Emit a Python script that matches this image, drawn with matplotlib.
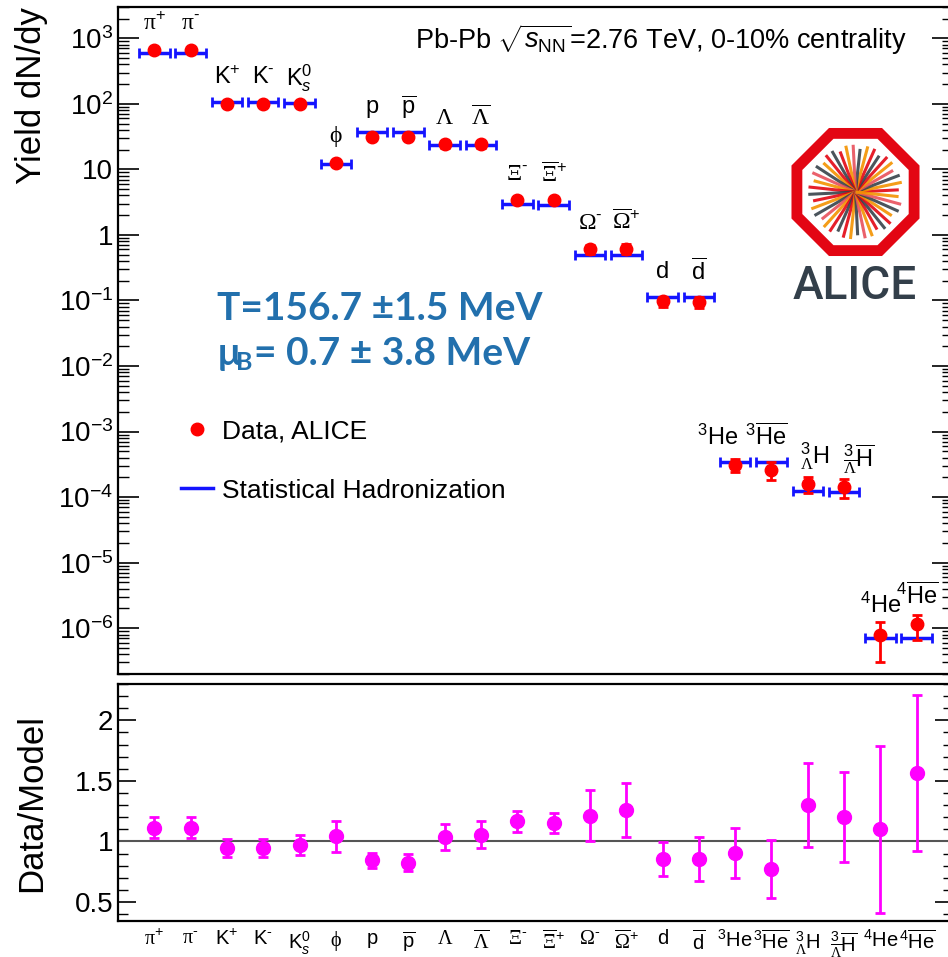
import matplotlib
matplotlib.use('Agg')
import matplotlib.pyplot as plt
import numpy as np
from matplotlib.lines import Line2D
from matplotlib.patches import Polygon
from matplotlib.ticker import LogLocator, MultipleLocator, FuncFormatter, NullFormatter

plt.rcParams['font.family'] = ['Liberation Sans', 'DejaVu Sans']
plt.rcParams['mathtext.fontset'] = 'custom'
plt.rcParams['mathtext.rm'] = 'Liberation Sans'
plt.rcParams['mathtext.it'] = 'Liberation Sans:italic'
plt.rcParams['mathtext.bf'] = 'Liberation Sans:bold'
plt.rcParams['mathtext.sf'] = 'Liberation Serif'

# particle labels
labels = [r'$\mathsf{\pi}^{+}$', r'$\mathsf{\pi}^{\text{-}}$', 'K$^{+}$', r'K$^{\text{-}}$', 'K$^{0}_{s}$',
          r'$\mathsf{\phi}$', 'p', r'$\overline{\mathrm{p}}$', r'$\mathsf{\Lambda}$',
          r'$\overline{\mathsf{\Lambda}}$', r'$\mathsf{\Xi}^{\text{-}}$', r'$\overline{\mathsf{\Xi}}^{+}$',
          r'$\mathsf{\Omega}^{\text{-}}$', r'$\overline{\mathsf{\Omega}}^{+}$', 'd', r'$\overline{\mathrm{d}}$',
          r'$^{3}$He', r'$^{3}\overline{\mathrm{He}}$', r'$^{3}_{\mathsf{\Lambda}}$H',
          r'$^{3}_{\overline{\mathsf{\Lambda}}}\overline{\mathrm{H}}$', r'$^{4}$He', r'$^{4}\overline{\mathrm{He}}$']

# yields dN/dy
data_vals = [670, 670, 100, 100, 100, 12.6, 31.5, 31, 24.1, 24.1, 3.42, 3.35, 0.61, 0.62,
             0.097, 0.095, 3.1e-4, 2.6e-4, 1.6e-4, 1.45e-4, 7.8e-7, 1.14e-6]
data_err = [50, 50, 8, 8, 8, 1.5, 2.5, 2.5, 2.6, 2.6, 0.25, 0.25, 0.1, 0.1,
            0.017, 0.017, 0.65e-4, 0.8e-4, 0.45e-4, 0.47e-4, 4.7e-7, 4.7e-7]
model_vals = [597, 597, 105, 105, 103, 12.1, 37, 37, 23.3, 23.3, 2.95, 2.9, 0.50, 0.49,
              0.114, 0.112, 3.45e-4, 3.45e-4, 1.22e-4, 1.2e-4, 7.2e-7, 7.1e-7]

# data / model
ratio = [1.115, 1.115, 0.945, 0.945, 0.973, 1.041, 0.843, 0.824, 1.036, 1.055, 1.165, 1.152,
         1.212, 1.26, 0.855, 0.853, 0.904, 0.769, 1.30, 1.20, 1.10, 1.568]
ratio_err = [0.085, 0.085, 0.077, 0.077, 0.083, 0.13, 0.065, 0.07, 0.11, 0.11, 0.088, 0.085,
             0.21, 0.22, 0.14, 0.18, 0.21, 0.24, 0.35, 0.37, 0.69, 0.645]

x = np.arange(len(labels))
W, H = 948, 957

fig = plt.figure(figsize=(W / 100, H / 100), dpi=100)
ax = fig.add_axes([118 / W, 1 - 674 / H, 835 / W, 667 / H])
ax2 = fig.add_axes([118 / W, 1 - 921 / H, 835 / W, 237 / H])

# top panel
ax.errorbar(x, model_vals, xerr=0.42, fmt='none', ecolor='#1414ff', elinewidth=2.5,
            capsize=3.5, capthick=2)
ax.errorbar(x, data_vals, yerr=data_err, fmt='o', color='#ff0000', ms=9, elinewidth=2,
            capsize=3.5, capthick=2)
ax.set_yscale('log')
ax.set_xlim(-1, 22)
ax.set_ylim(2.0e-7, 3000)
ax.yaxis.set_major_locator(LogLocator(base=10, numticks=20))
ax.yaxis.set_minor_locator(LogLocator(base=10, subs=np.arange(2, 10), numticks=20))
ax.yaxis.set_minor_formatter(NullFormatter())


def logfmt(v, pos):
    e = int(round(np.log10(v)))
    if e == 0:
        return '1'
    if e == 1:
        return '10'
    return r'$10^{%d}$' % e


ax.yaxis.set_major_formatter(FuncFormatter(logfmt))
ax.set_xticks([])
ax.tick_params(axis='y', which='both', direction='in', left=True, right=True, labelsize=20)
ax.tick_params(axis='y', which='major', length=15, width=1.2)
ax.tick_params(axis='y', which='minor', length=8, width=1.0)
ax.set_ylabel('Yield dN/dy', fontsize=25, loc='top')
ax.yaxis.set_label_coords(-0.084, 1.0)

# small sideways shifts so the nuclei labels do not collide
label_shift = {16: -13, 17: -4, 18: 5, 19: 11}
for i, lab in enumerate(labels):
    top = max(data_vals[i] + data_err[i] * 0.3, model_vals[i])
    ax.annotate(lab, (x[i], top), xytext=(label_shift.get(i, 0), 18), textcoords='offset points',
                ha='center', va='center', fontsize=17)

leg_handles = [Line2D([], [], marker='o', color='#ff0000', ls='none', ms=9),
               Line2D([], [], color='#1414ff', lw=2.5)]
ax.legend(leg_handles, ['Data, ALICE', 'Statistical Hadronization'], loc='upper left',
          bbox_to_anchor=(181 / W, 1 - 419 / H), bbox_transform=fig.transFigure,
          frameon=False, fontsize=19, handlelength=1.2, handletextpad=0.35,
          labelspacing=1.35, borderpad=0, borderaxespad=0)

fig.text(415 / W, 1 - 40 / H, r'Pb-Pb $\sqrt{s_{\mathrm{NN}}}$=2.76 TeV, 0-10% centrality',
         fontsize=19.5, va='center', ha='left')

blue = '#2270ad'
fig.text(217 / W, 1 - 308 / H, 'T=156.7 \u00b11.5 MeV', fontsize=28, fontfamily='Lato',
         fontweight='bold', color=blue, va='center', ha='left')
fig.text(217 / W, 1 - 354 / H, '\u00b5', fontsize=28, fontfamily='Lato',
         fontweight='bold', color=blue, va='center', ha='left')
fig.text(236 / W, 1 - 362 / H, 'B', fontsize=18, fontfamily='Lato',
         fontweight='bold', color=blue, va='center', ha='left')
fig.text(254 / W, 1 - 354 / H, '= 0.7 \u00b1 3.8 MeV', fontsize=28, fontfamily='Lato',
         fontweight='bold', color=blue, va='center', ha='left')

# ALICE logo
lax = fig.add_axes([790 / W, 1 - 257 / H, 131 / W, 130 / H])
lax.set_xlim(-66, 66)
lax.set_ylim(-66, 66)
lax.set_aspect('equal')
lax.axis('off')
ang = np.radians(22.5 + 45 * np.arange(8))
r_out = 65 / np.cos(np.radians(22.5))
r_in = 54 / np.cos(np.radians(22.5))
lax.add_patch(Polygon(np.c_[r_out * np.cos(ang), r_out * np.sin(ang)], closed=True,
                      facecolor='#e30613', edgecolor='none'))
lax.add_patch(Polygon(np.c_[r_in * np.cos(ang), r_in * np.sin(ang)], closed=True,
                      facecolor='white', edgecolor='none'))
ray_cols = ['#e30613', '#f39200', '#37424a', '#e8505b', '#f39200', '#e30613', '#37424a']
for k, a in enumerate(np.linspace(0, 2 * np.pi, 40, endpoint=False)):
    rr = 48 if k % 3 else 44
    lax.plot([0, rr * np.cos(a + 0.05)], [0, rr * np.sin(a + 0.05)],
             color=ray_cols[k % len(ray_cols)], lw=2.2, alpha=0.9, solid_capstyle='butt')
fig.text(855 / W, 1 - 286 / H, 'ALICE', fontsize=33, fontfamily='Roboto', fontweight='medium',
         color='#333f4a', ha='center', va='center')

# bottom panel
ax2.axhline(1, color='#555555', lw=1.5)
ax2.errorbar(x, ratio, yerr=ratio_err, fmt='o', color='#ff00ff', ms=10, elinewidth=2,
             capsize=3.5, capthick=2)
ax2.set_xlim(-1, 22)
ax2.set_ylim(0.343, 2.30)
ax2.yaxis.set_major_locator(MultipleLocator(0.5))
ax2.yaxis.set_minor_locator(MultipleLocator(0.1))
ax2.yaxis.set_major_formatter(FuncFormatter(lambda v, p: '%g' % v))
ax2.set_xticks(x)
ax2.set_xticklabels(labels, fontsize=14.5)
ax2.tick_params(axis='x', length=0, pad=6)
ax2.tick_params(axis='y', which='both', direction='in', left=True, right=True, labelsize=20)
ax2.tick_params(axis='y', which='major', length=13, width=1.2)
ax2.tick_params(axis='y', which='minor', length=7, width=1.0)
ax2.set_ylabel('Data/Model', fontsize=25)
ax2.yaxis.set_label_coords(-0.084, 0.5)

for a in (ax, ax2):
    for s in a.spines.values():
        s.set_linewidth(1.6)

fig.savefig('out.png', dpi=100)
